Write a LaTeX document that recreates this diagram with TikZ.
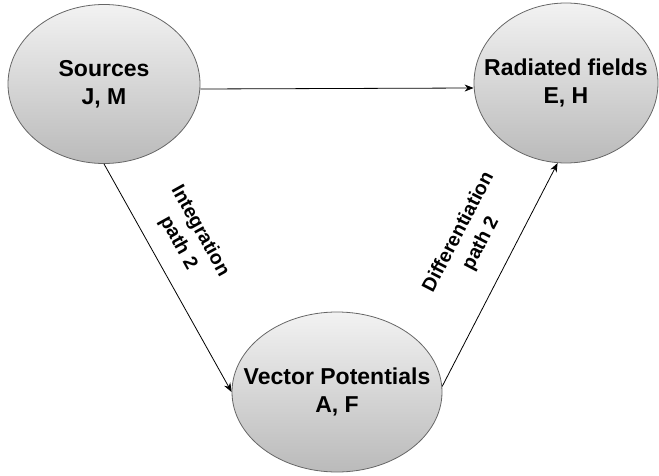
\documentclass[tikz,border=0pt]{standalone}
\usepackage{fontspec}
\setmainfont{Liberation Sans}
\usetikzlibrary{arrows.meta,shapes.geometric,positioning}
\tikzset{
  blob/.style={ellipse,draw=black!60,line width=0.8pt,
    top color=black!5,bottom color=black!27,inner sep=0pt},
  blobtext/.style={align=center,font=\fontsize{23}{28}\selectfont\bfseries},
  pathlabel/.style={align=center,font=\fontsize{19.5}{25}\selectfont\bfseries},
  link/.style={-{Stealth[length=9pt,width=7pt]},line width=0.8pt}
}
\begin{document}
\begin{tikzpicture}[x=1pt,y=-1pt]
  \useasboundingbox (0,0) rectangle (659,476);
  % ellipses
  \node[blob,minimum width=192pt,minimum height=159pt] (src) at (104,84) {};
  \node[blob,minimum width=184pt,minimum height=160pt] (rad) at (566,83) {};
  \node[blob,minimum width=210pt,minimum height=160pt] (vp) at (337,392) {};
  \node[blobtext] (srctxt) at (src) {Sources\\J, M};
  \node[blobtext] (radtxt) at (rad) {Radiated fields\\E, H};
  \node[blobtext] (vptxt) at (vp) {Vector Potentials\\A, F};
  % connectors
  \draw[link] ([yshift=-5pt]src.east) -- ([yshift=-5pt]rad.west);
  \draw[link] (src.south) -- (vp.west);
  \draw[link] (vp.3) -- (rad.-96);
  % path labels
  \node[pathlabel,rotate=-61] (intlab) at (189,237) {Integration\\path 2};
  \node[pathlabel,rotate=62.6] (diflab) at (470,238) {Differentiation\\path 2};
\end{tikzpicture}
\end{document}
